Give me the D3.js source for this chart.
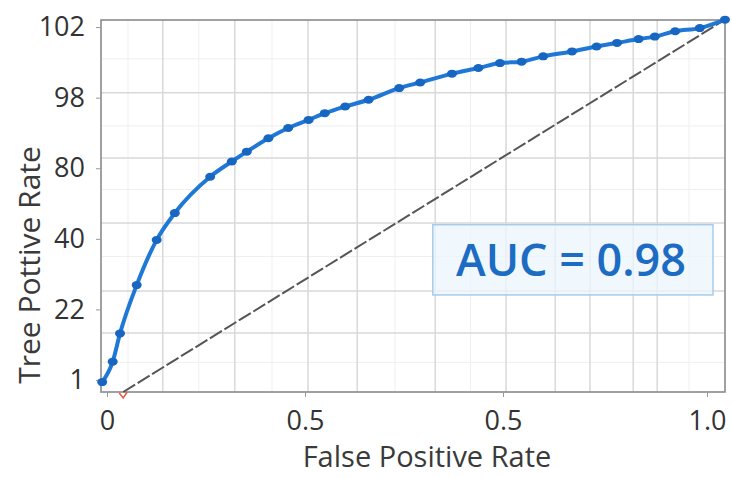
<!DOCTYPE html>
<html><head><meta charset="utf-8">
<script src="https://cdn.jsdelivr.net/npm/d3@7"></script>
<style>html,body{margin:0;padding:0;background:#fff;}svg{display:block;}</style>
</head><body>
<svg id="chart" width="732" height="478"></svg>
<script>
// ---- data ----
const fprValues = [-0.008,0.0095,0.0217,0.0495,0.0828,0.113,0.172,0.208,0.233,0.269,0.302,0.336,0.363,0.397,0.436,0.487,0.522,0.575,0.619,0.655,0.691,0.727,0.775,0.816,0.85,0.886,0.913,0.947,0.988,1.03];
const tprValues = [-0.006,0.052,0.132,0.269,0.397,0.473,0.576,0.619,0.647,0.685,0.714,0.737,0.756,0.775,0.794,0.827,0.843,0.868,0.884,0.898,0.902,0.917,0.931,0.945,0.955,0.966,0.973,0.988,0.997,1.021];
const diagX = [0.027, 1.03];
const diagY = [-0.034, 1.021];
const xTickValues = [0, 0.33, 0.66, 1.0];
const xTickLabels = ["0", "0.5", "0.5", "1.0"];
const yTickValues = [0, 0.2, 0.4, 0.6, 0.8, 1.0];
const yTickLabels = ["1", "22", "40", "80", "98", "102"];
const gridXMajor = [0.093, 0.213, 0.335, 0.417, 0.547, 0.665, 0.747, 0.805, 0.877, 0.917];
const gridXMinor = [0.035, 0.153, 0.275, 0.48, 0.606, 0.97];
const gridYMajor = [0.133, 0.252, 0.445, 0.629, 0.814];
const gridYMinor = [0.05, 0.35, 0.54, 0.72, 0.91];
const aucLabel = "AUC = 0.98";
const xTitle = "False Positive Rate";
const yTitle = "Tree Pottive Rate";

// ---- layout ----
const svg = d3.select("#chart");
const L = 101, R = 725, T = 20, B = 392;
const x = d3.scaleLinear().domain([-0.01, 1.03]).range([L, R]);
const y = d3.scaleLinear().domain([-0.034, 1.02]).range([B, T]);
const font = "'Open Sans', 'Noto Sans', sans-serif";

// grid
const g = svg.append("g");
g.selectAll(".gxm").data(gridXMinor).join("line")
  .attr("x1", d => x(d)).attr("x2", d => x(d)).attr("y1", T).attr("y2", B)
  .attr("stroke", "#efefef").attr("stroke-width", 1);
g.selectAll(".gym").data(gridYMinor).join("line")
  .attr("y1", d => y(d)).attr("y2", d => y(d)).attr("x1", L).attr("x2", R)
  .attr("stroke", "#efefef").attr("stroke-width", 1);
g.selectAll(".gx").data(gridXMajor).join("line")
  .attr("x1", d => x(d)).attr("x2", d => x(d)).attr("y1", T).attr("y2", B)
  .attr("stroke", "#d9d9d9").attr("stroke-width", 1.5);
g.selectAll(".gy").data(gridYMajor).join("line")
  .attr("y1", d => y(d)).attr("y2", d => y(d)).attr("x1", L).attr("x2", R)
  .attr("stroke", "#d9d9d9").attr("stroke-width", 1.5);

// frame
svg.append("rect").attr("x", L).attr("y", T).attr("width", R - L).attr("height", B - T)
  .attr("fill", "none").attr("stroke", "#8a8a8a").attr("stroke-width", 1.6);

// axes
const xAxis = d3.axisBottom(x).tickValues(xTickValues).tickFormat((d, i) => xTickLabels[i]).tickSize(5).tickPadding(14);
const gx = svg.append("g").attr("transform", `translate(0,${B})`).call(xAxis);
gx.select(".domain").remove();
gx.selectAll("line").attr("stroke", "#999");
gx.selectAll("text").attr("font-family", font).attr("font-size", 27).attr("fill", "#333");

const yAxis = d3.axisLeft(y).tickValues(yTickValues).tickFormat((d, i) => yTickLabels[i]).tickSize(5).tickPadding(11);
const gy = svg.append("g").attr("transform", `translate(${L},0)`).call(yAxis);
gy.select(".domain").remove();
gy.selectAll("line").attr("stroke", "#999");
gy.selectAll("text").attr("font-family", font).attr("font-size", 27).attr("fill", "#333");

// titles
svg.append("text").attr("x", 427).attr("y", 467).attr("text-anchor", "middle")
  .attr("font-family", font).attr("font-size", 29).attr("fill", "#3a3a3a").text(xTitle);
svg.append("text").attr("transform", "translate(40,265) rotate(-90)").attr("text-anchor", "middle")
  .attr("font-family", font).attr("font-size", 30).attr("fill", "#3a3a3a").text(yTitle);

// diagonal
svg.append("line").attr("x1", x(diagX[0])).attr("y1", y(diagY[0])).attr("x2", x(diagX[1])).attr("y2", y(diagY[1]))
  .attr("stroke", "#555").attr("stroke-width", 2).attr("stroke-dasharray", "14,3");
svg.append("path").attr("d", `M${x(diagX[0]) - 4},${B + 1} L${x(diagX[0])},${B + 6} L${x(diagX[0]) + 4},${B}`)
  .attr("stroke", "#e0604a").attr("stroke-width", 1.6).attr("fill", "none");

// AUC box
svg.append("rect").attr("x", x(0.543)).attr("y", y(0.44)).attr("width", x(1.01) - x(0.543)).attr("height", y(0.241) - y(0.44))
  .attr("fill", "rgba(235,244,252,0.75)").attr("stroke", "#a9cbea").attr("stroke-width", 1.5);
svg.append("text").attr("x", 571).attr("y", 276).attr("text-anchor", "middle")
  .attr("font-family", font).attr("font-size", 45).attr("font-weight", 600).attr("fill", "#1b6cc2")
  .attr("textLength", 230).attr("lengthAdjust", "spacingAndGlyphs").text(aucLabel);

// ROC curve
const pts = fprValues.map((v, i) => [v, tprValues[i]]);
const line = d3.line().x(d => x(d[0])).y(d => y(d[1])).curve(d3.curveMonotoneX);
svg.append("path").datum(pts).attr("d", line).attr("fill", "none").attr("stroke", "#1f78d6").attr("stroke-width", 4);
svg.selectAll(".pt").data(pts).join("ellipse")
  .attr("cx", d => x(d[0])).attr("cy", d => y(d[1])).attr("rx", 5).attr("ry", 4)
  .attr("fill", "#1766c2");
</script>
</body></html>
